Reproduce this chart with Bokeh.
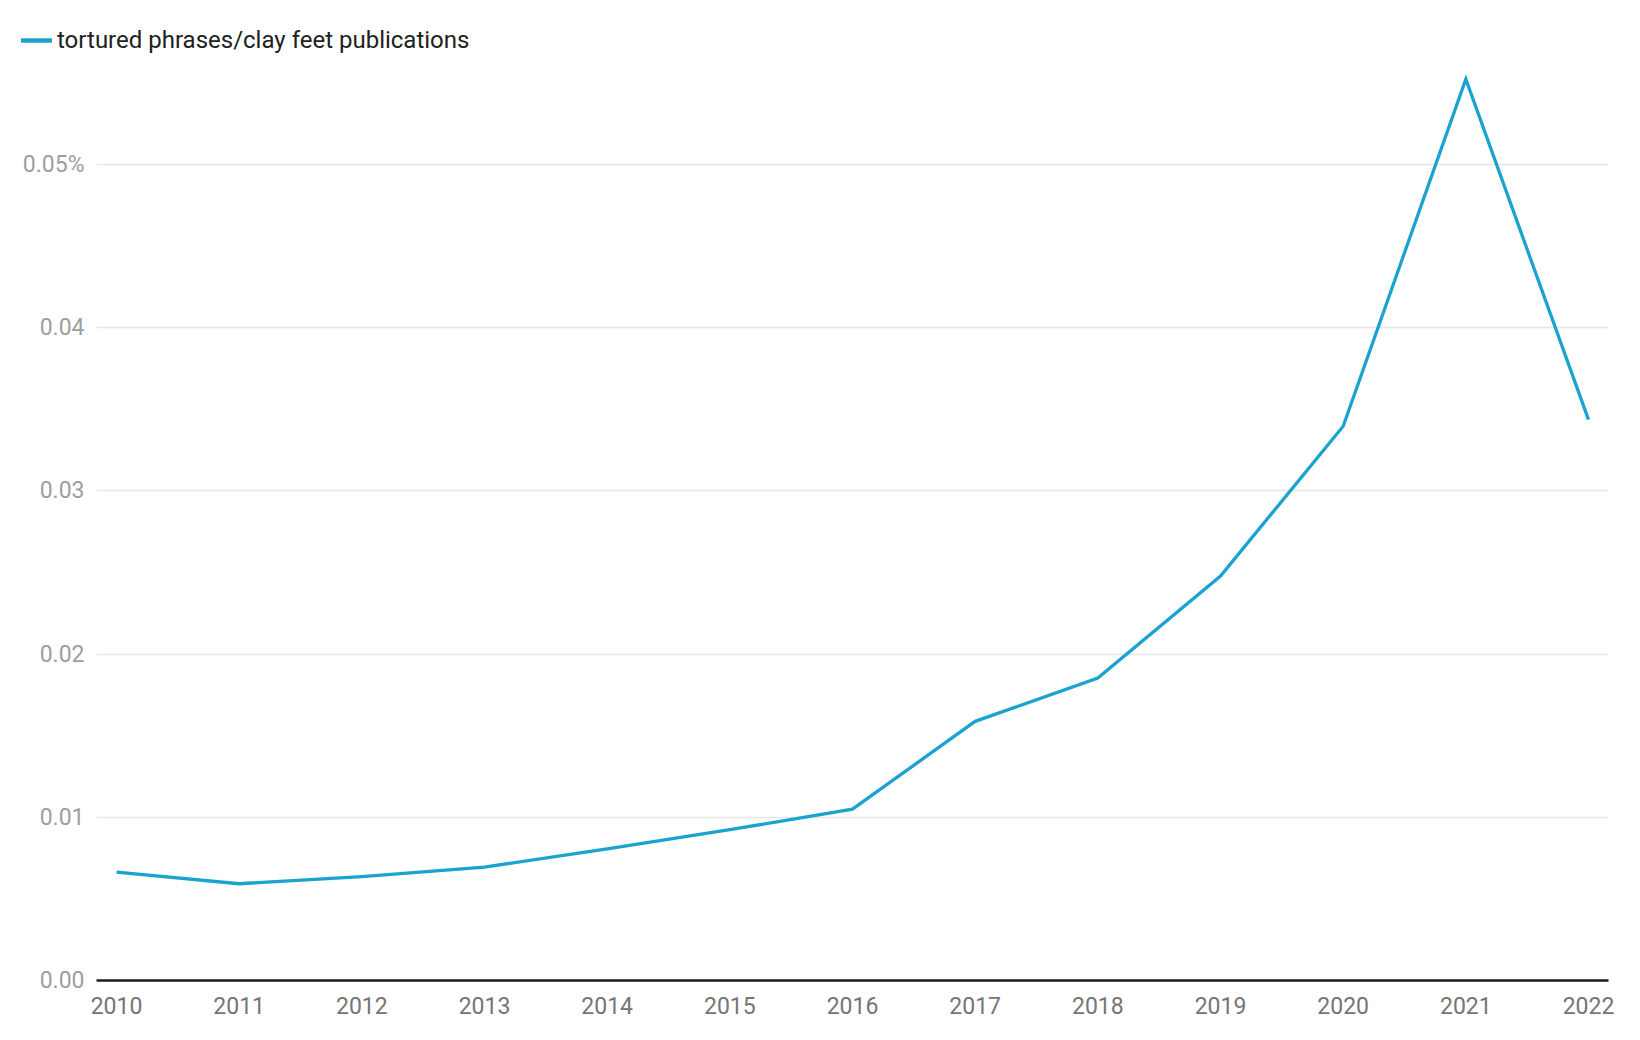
from bokeh.plotting import figure
from bokeh.models import (ColumnDataSource, FixedTicker, CustomJSTickFormatter,
                          Legend, LegendItem, Range1d)
from bokeh.embed import file_html
from bokeh.resources import INLINE

years = [2010, 2011, 2012, 2013, 2014, 2015, 2016, 2017, 2018, 2019, 2020, 2021, 2022]
share_pct = [0.00664, 0.00593, 0.00637, 0.00695, 0.00807, 0.00924, 0.01050,
             0.01588, 0.01853, 0.02478, 0.03396, 0.05523, 0.03437]
y_ticks = [0.0, 0.01, 0.02, 0.03, 0.04, 0.05]
series_name = "tortured phrases/clay feet publications"

FONT = "Roboto"
LINE_COLOR = "#1ba3cf"
LINE_W = 3.3

src = ColumnDataSource(data=dict(year=years, share=share_pct))

# ---- legend strip (top) ----
lg = figure(width=1624, height=54, output_backend="svg", toolbar_location=None,
            x_range=Range1d(2009.837, 2022.163), y_range=Range1d(1, 2),
            x_axis_type=None, y_axis_type=None,
            min_border_left=0, min_border_right=0, min_border_top=0,
            min_border_bottom=0)
lg.outline_line_color = None
lg.grid.visible = False
lg.background_fill_color = "white"
lg.border_fill_color = "white"
# same series, outside this strip's visible range: only its legend key shows
key = lg.line("year", "share", source=src, line_color=LINE_COLOR, line_width=4.5,
              line_cap="round")
legend = Legend(items=[LegendItem(label=series_name, renderers=[key])],
                location=(21, 0), orientation="horizontal",
                padding=0, margin=0, border_line_color=None,
                background_fill_alpha=0, glyph_width=31, glyph_height=20,
                label_standoff=5, label_text_font=FONT,
                label_text_font_size="24px", label_text_color="#212121")
lg.add_layout(legend, "center")

# ---- main chart ----
p = figure(width=1624, height=970, output_backend="svg", toolbar_location=None,
           x_range=Range1d(2009.837, 2022.163), y_range=Range1d(0, 0.05613),
           min_border_left=96, min_border_right=16, min_border_top=10,
           min_border_bottom=44)
p.outline_line_color = None
p.background_fill_color = "white"
p.border_fill_color = "white"

p.line("year", "share", source=src, line_color=LINE_COLOR, line_width=LINE_W,
       line_join="miter")

xa = p.xaxis[0]
xa.ticker = FixedTicker(ticks=years)
xa.formatter = CustomJSTickFormatter(code="return tick.toFixed(0);")
xa.axis_line_color = "#1a1a1a"
xa.axis_line_width = 2.5
xa.major_tick_line_color = None
xa.minor_tick_line_color = None
xa.major_tick_out = 0
xa.major_tick_in = 0
xa.major_label_standoff = 16
xa.major_label_text_font = FONT
xa.major_label_text_font_size = "23px"
xa.major_label_text_color = "#757575"

ya = p.yaxis[0]
ya.ticker = FixedTicker(ticks=y_ticks)
ya.formatter = CustomJSTickFormatter(
    code="return index == ticks.length - 1 ? tick.toFixed(2) + '%' : tick.toFixed(2);")
ya.axis_line_color = None
ya.major_tick_line_color = None
ya.minor_tick_line_color = None
ya.major_tick_out = 0
ya.major_tick_in = 0
ya.major_label_standoff = 12
ya.major_label_text_font = FONT
ya.major_label_text_font_size = "23px"
ya.major_label_text_color = "#9e9e9e"

p.xgrid.grid_line_color = None
p.ygrid.grid_line_color = "#e6e6e6"
p.ygrid.grid_line_width = 1.5

open("out.html", "w").write(file_html([lg, p], INLINE))
